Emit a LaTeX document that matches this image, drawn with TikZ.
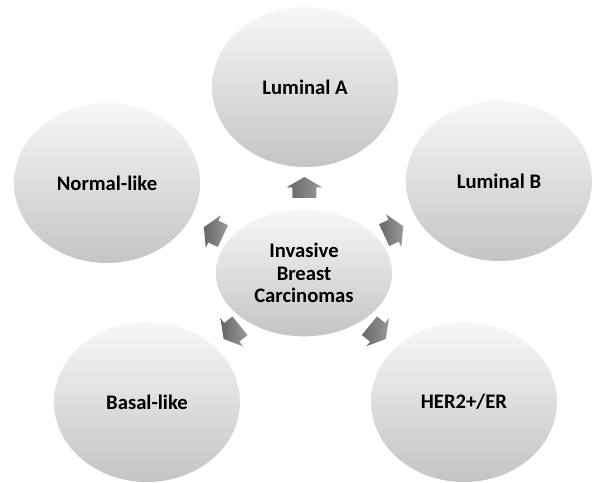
\documentclass[tikz,border=0pt]{standalone}
\usepackage{fontspec}
\setmainfont{Carlito}
\usetikzlibrary{shapes.geometric,calc}

\begin{document}
\begin{tikzpicture}[x=0.75pt,y=0.75pt,
  bubble/.style={ellipse, inner sep=0pt, minimum width=139.5pt, minimum height=120pt,
    top color=black!3, middle color=black!9, bottom color=black!23,
    font=\fontsize{15.5}{17}\selectfont\bfseries},
  hub/.style={bubble, minimum width=132pt, minimum height=95pt, align=center},
  spoke/.style={left color=black!60, right color=black!40}]
\useasboundingbox (0,0) rectangle (594,483);
% subtypes round the centre
\node[hub] (ctr) at (304,210) {Invasive\\Breast\\Carcinomas};
\node[bubble] (lumA) at (305,396) {Luminal A};
\node[bubble] (lumB) at (499,302) {Luminal B};
\node[bubble] (norm) at (107,300) {Normal-like};
\node[bubble] (basal) at (147,81) {Basal-like};
\node[bubble] (her2) at (464,81) {HER2+/ER};
% block arrows from the centre
\foreach \t/\a in {lumA/90,lumB/25,norm/155,basal/219,her2/-39} {
  \coordinate (to\t) at ($(ctr)!0.46!(\t)$);
  \path[spoke, shift={(to\t)}, rotate=\a]
    (-10.5,-12) -- (0,-12) -- (0,-18) -- (10.5,0) -- (0,18) -- (0,12) -- (-10.5,12) -- cycle;
}
\end{tikzpicture}
\end{document}
